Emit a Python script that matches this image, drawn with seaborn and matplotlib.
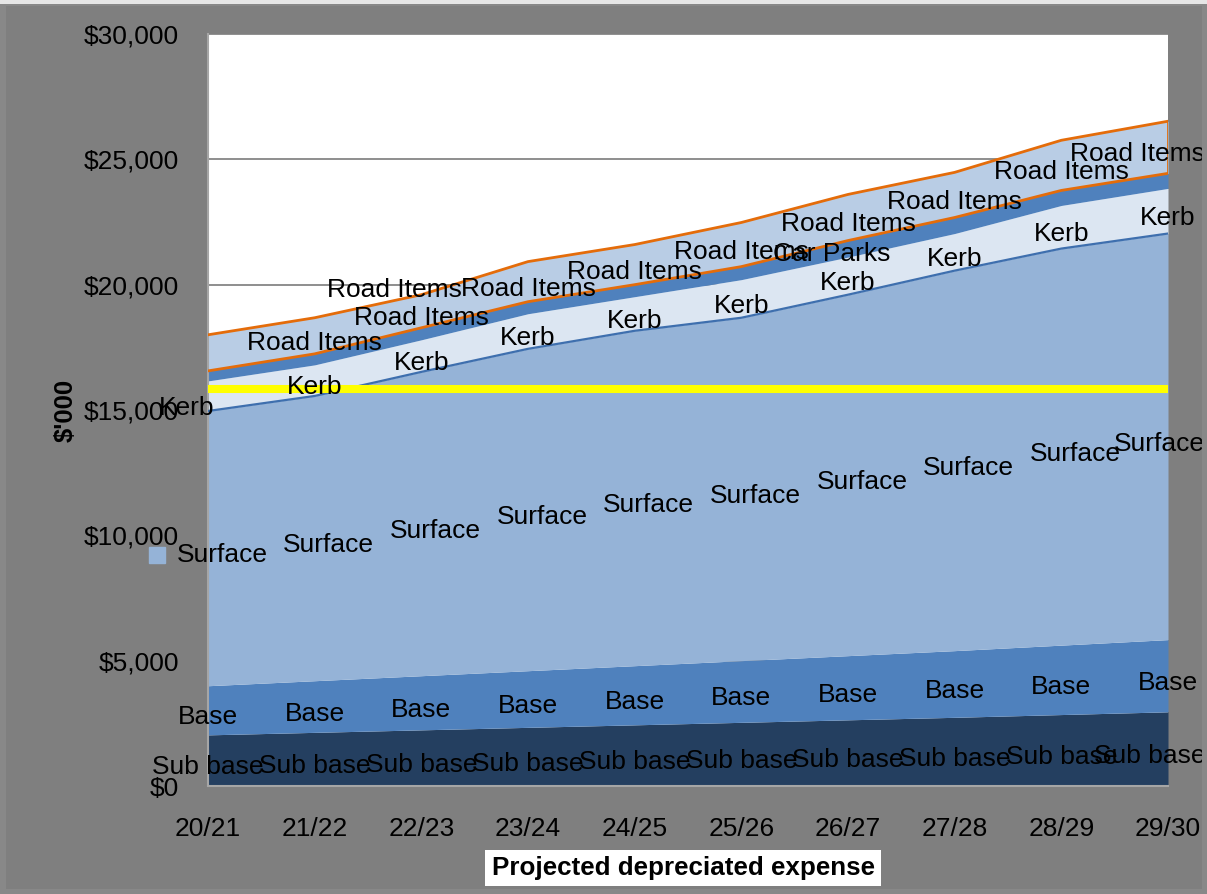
import matplotlib
matplotlib.use("Agg")
import matplotlib.pyplot as plt
import matplotlib.transforms as mtransforms
from matplotlib.patches import Rectangle
import numpy as np
import pandas as pd
import seaborn as sns

# Projected depreciated expense by asset component ($'000)
years = ["20/21", "21/22", "22/23", "23/24", "24/25",
         "25/26", "26/27", "27/28", "28/29", "29/30"]
sub_base = [2040, 2140, 2240, 2340, 2440, 2540, 2640, 2740, 2850, 2960]
base = [1960, 2060, 2160, 2260, 2360, 2460, 2560, 2660, 2770, 2880]
surface = [10960, 11360, 12120, 12840, 13360, 13680, 14400, 15160, 15820, 16200]
kerb = [1200, 1240, 1280, 1400, 1360, 1520, 1500, 1480, 1720, 1800]
car_parks = [400, 440, 480, 480, 480, 520, 660, 640, 600, 600]
road_items = [1440, 1440, 1320, 1600, 1600, 1760, 1840, 1800, 2000, 2080]
target_line = 15850

series = ["Sub base", "Base", "Surface", "Kerb", "Car Parks", "Road Items"]
colors = ["#243F60", "#4F81BD", "#95B3D7", "#DCE6F2", "#4F81BD", "#B9CDE5"]

df = pd.DataFrame({"Year": years, "Sub base": sub_base, "Base": base,
                   "Surface": surface, "Kerb": kerb, "Car Parks": car_parks,
                   "Road Items": road_items})
cum = df[series].cumsum(axis=1)

sns.set_style("white")
plt.rcParams["font.family"] = ["Liberation Sans", "DejaVu Sans"]

W, H = 1207, 894
fig = plt.figure(figsize=(W / 100, H / 100), dpi=100, facecolor="#7f7f7f")
fig.patches.append(Rectangle((0, 0), 1, 1, transform=fig.transFigure,
                             facecolor="none", edgecolor="#888888",
                             linewidth=8, zorder=0))
fig.patches.append(Rectangle((0, 1 - 4 / H), 1, 4 / H, transform=fig.transFigure,
                             facecolor="#e6e6e6", edgecolor="none", zorder=1))

ax = fig.add_axes([208 / W, 108 / H, 960 / W, 752 / H])
ax.set_facecolor("white")
x = np.arange(len(years))

ax.stackplot(x, [df[s].values for s in series], colors=colors,
             linewidth=0, zorder=2)

# outline of the kerb band and of the road items band
sns.lineplot(x=x, y=cum["Surface"].values, color="#3E6FAE", linewidth=1.6,
             ax=ax, legend=False, zorder=3)
sns.lineplot(x=x, y=cum["Car Parks"].values, color="#E46C0A", linewidth=2,
             ax=ax, legend=False, zorder=3)
sns.lineplot(x=x, y=cum["Road Items"].values, color="#E46C0A", linewidth=2,
             ax=ax, legend=False, zorder=3)
ax.vlines(x[-1], cum["Car Parks"].iloc[-1], cum["Road Items"].iloc[-1],
          color="#E46C0A", linewidth=2, zorder=3)

ax.axhline(target_line, color="#FFFF00", linewidth=5.8, zorder=4)

ax.set_xlim(0, len(years) - 1)
ax.set_ylim(0, 30000)
yt = np.arange(0, 30001, 5000)
ax.set_yticks(yt)
ax.set_yticklabels([f"${v:,}" for v in yt])
ax.set_xticks(x)
ax.set_xticklabels(years)
ax.yaxis.grid(True, color="#868686", linewidth=1.3)
ax.xaxis.grid(False)
ax.set_axisbelow(True)
ax.tick_params(axis="y", length=7.2, width=1.2, color="#a6a6a6", pad=13.5,
               labelsize=19, labelcolor="black")
ax.tick_params(axis="x", length=5.8, width=1.2, color="#a6a6a6", pad=16.5,
               labelsize=19, labelcolor="black")
for side in ["top", "right"]:
    ax.spines[side].set_visible(False)
for side in ["left", "bottom"]:
    ax.spines[side].set_color("#a6a6a6")
    ax.spines[side].set_linewidth(1.5)

ax.set_ylabel("$'000", fontsize=18.5, fontweight="bold", color="black")
ax.yaxis.set_label_coords(-0.136, 0.5)
ax.set_xlabel("")

fig.text(683 / W, 1 - 868 / H, "Projected depreciated expense",
         ha="center", va="center", fontsize=18.7, fontweight="bold",
         color="black",
         bbox=dict(facecolor="white", edgecolor="none",
                   boxstyle="square,pad=0.25"))

# series name labels in the middle of each band
label_size = 19
texts = []


def put_label(xv, yv, s, dx=0.0, dy=-7.0):
    tr = mtransforms.offset_copy(ax.transData, fig=fig, x=dx, y=dy, units="dots")
    t = ax.text(xv, yv, s, transform=tr, ha="center", va="center",
                fontsize=label_size, color="black", zorder=6, clip_on=False)
    texts.append(t)
    return t


prev = np.zeros(len(years))
for s in series:
    vals = df[s].values
    for j in range(len(years)):
        mid = prev[j] + vals[j] / 2
        if s == "Road Items" and j == 0:
            continue
        if s == "Car Parks" and j != 6:
            continue
        if s == "Surface":
            put_label(x[j], mid, s, dx=14)
            key_tr = mtransforms.offset_copy(ax.transData, fig=fig, x=-51.5,
                                             y=-7, units="dots")
            ax.plot([x[j]], [mid], marker="s", markersize=12.2,
                    color=colors[2], linestyle="none", transform=key_tr,
                    clip_on=False, zorder=5)
        elif s == "Kerb" and j == 0:
            put_label(x[j], mid, s, dx=-21, dy=-12)
        elif s == "Car Parks":
            put_label(x[j] - 0.15, mid, s, dy=-5)
        else:
            put_label(x[j], mid, s)
    prev = prev + vals

put_label(1.745, 19900, "Road Items", dy=-3)

# keep labels inside the chart area on the right-hand side
fig.canvas.draw()
renderer = fig.canvas.get_renderer()
ppu = 960 / (len(years) - 1)
for t in texts:
    bb = t.get_window_extent(renderer)
    if bb.x1 > W - 2:
        xv, yv = t.get_position()
        t.set_position((xv - (bb.x1 - (W - 2)) / ppu, yv))

fig.savefig("out.png", dpi=100, facecolor=fig.get_facecolor())
